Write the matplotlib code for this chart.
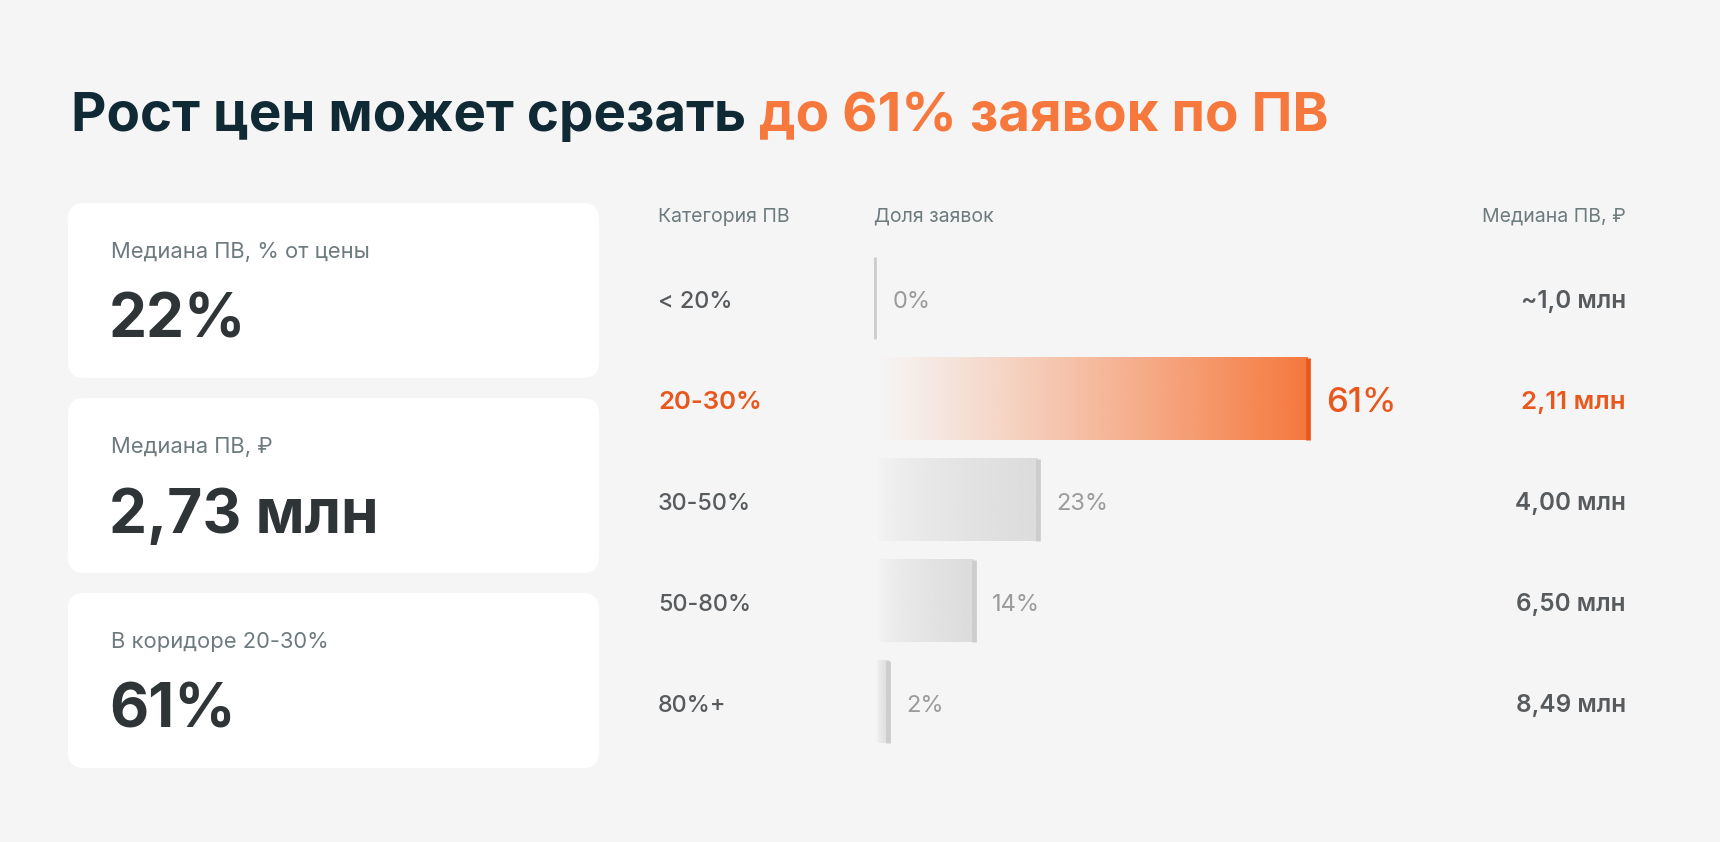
import numpy as np
import matplotlib
matplotlib.use("Agg")
import matplotlib.pyplot as plt
from matplotlib.patches import FancyBboxPatch
from matplotlib.colors import to_rgb
from matplotlib.transforms import blended_transform_factory

# ------------------------------
# Data
# ------------------------------
title_dark = "Рост цен может срезать "
title_accent = "до 61% заявок по ПВ"

card_labels = ["Медиана ПВ, % от цены", "Медиана ПВ, ₽", "В коридоре 20-30%"]
card_values = ["22%", "2,73 млн", "61%"]

categories = ["< 20%", "20-30%", "30-50%", "50-80%", "80%+"]
shares = [0, 61, 23, 14, 2]
median_rub = ["~1,0 млн", "2,11 млн", "4,00 млн", "6,50 млн", "8,49 млн"]
highlight = 1

headers = ["Категория ПВ", "Доля заявок", "Медиана ПВ, ₽"]

# ------------------------------
# Style
# ------------------------------
BG = "#f5f5f5"
NAVY = "#0f2935"
ORANGE = "#e9571d"
ORANGE_T = "#f6783c"
GREY_TXT = "#6d7a7e"
DARK = "#2f3437"
CAT = "#575b5e"
VAL_GREY = "#9b9b9b"
BAR_GREY = "#dcdcdc"
EDGE_GREY = "#cdcdcd"

plt.rcParams["font.family"] = ["Inter", "DejaVu Sans"]

W, H = 1720, 842
fig = plt.figure(figsize=(W / 100, H / 100), dpi=100, facecolor=BG)

# background axes in pixel coords (y downwards)
bg = fig.add_axes([0, 0, 1, 1])
bg.set_xlim(0, W)
bg.set_ylim(H, 0)
bg.axis("off")
bg.set_facecolor(BG)

# title
t1 = bg.text(71, 131, title_dark, fontsize=39.4, fontweight="bold", color=NAVY, va="baseline")
bg.annotate(title_accent, xy=(1, 0), xycoords=t1, va="bottom", ha="left",
            fontsize=39.4, fontweight="bold", color=ORANGE_T)

# cards
card_top = [203, 398, 593]
card_h = 175
for top, lab, val in zip(card_top, card_labels, card_values):
    bg.add_patch(FancyBboxPatch((68, top), 531, card_h,
                                boxstyle="round,pad=0,rounding_size=16",
                                fc="white", ec="none"))
    bg.text(111, top + 49, lab, fontsize=15.8, color=GREY_TXT, va="center")
    bg.text(109, top + 119, val, fontsize=43.5, fontweight="bold", color=DARK, va="center")

# column headers
bg.text(658, 217, headers[0], fontsize=14, color=GREY_TXT, va="center")
bg.text(874, 217, headers[1], fontsize=14, color=GREY_TXT, va="center")
bg.text(1626, 217, headers[2], fontsize=14, color=GREY_TXT, va="center", ha="right")

# ------------------------------
# Bars
# ------------------------------
ax = fig.add_axes([874 / W, (H - 752.5) / H, 752 / W, 505 / H])
ax.set_xlim(0, 752 / 7.11)
ax.set_ylim(len(categories) - 0.5, -0.5)
ax.axis("off")

row_tf = blended_transform_factory(bg.transData, ax.transData)
dy = 0.035  # small nudge so the text sits on the row centre

bar_h = 0.82
for i, (cat, s, med) in enumerate(zip(categories, shares, median_rub)):
    hi = i == highlight
    base = ORANGE_T if hi else BAR_GREY
    if s > 0:
        n = 256
        ramp = np.linspace(0, 1, n) ** (1.1 if hi else 0.6)
        img = np.zeros((1, n, 4))
        img[..., :3] = to_rgb(base)
        img[0, :, 3] = ramp
        ax.imshow(img, extent=[0.4, s, i + bar_h / 2, i - bar_h / 2],
                  aspect="auto", interpolation="bilinear", zorder=1)
    ax.vlines(s, i - bar_h / 2, i + bar_h / 2, color=ORANGE if hi else EDGE_GREY,
              lw=3.4, zorder=2)
    ax.text(s + 2.6, i + dy, f"{s}%", va="center", ha="left",
            fontsize=25 if hi else 17, fontweight="medium" if hi else "normal",
            color=ORANGE if hi else VAL_GREY)
    # category and median text on the same rows
    ax.text(658, i + dy, cat, transform=row_tf,
            fontsize=18.5 if hi else 16.8, fontweight="semibold" if hi else "medium",
            color=ORANGE if hi else CAT, va="center")
    ax.text(1626, i + dy, med, transform=row_tf,
            fontsize=18.6 if hi else 17.5, fontweight="semibold",
            color=ORANGE if hi else CAT, va="center", ha="right")

ax.set_xlim(0, 752 / 7.11)

fig.savefig("out.png", dpi=100, facecolor=BG)
